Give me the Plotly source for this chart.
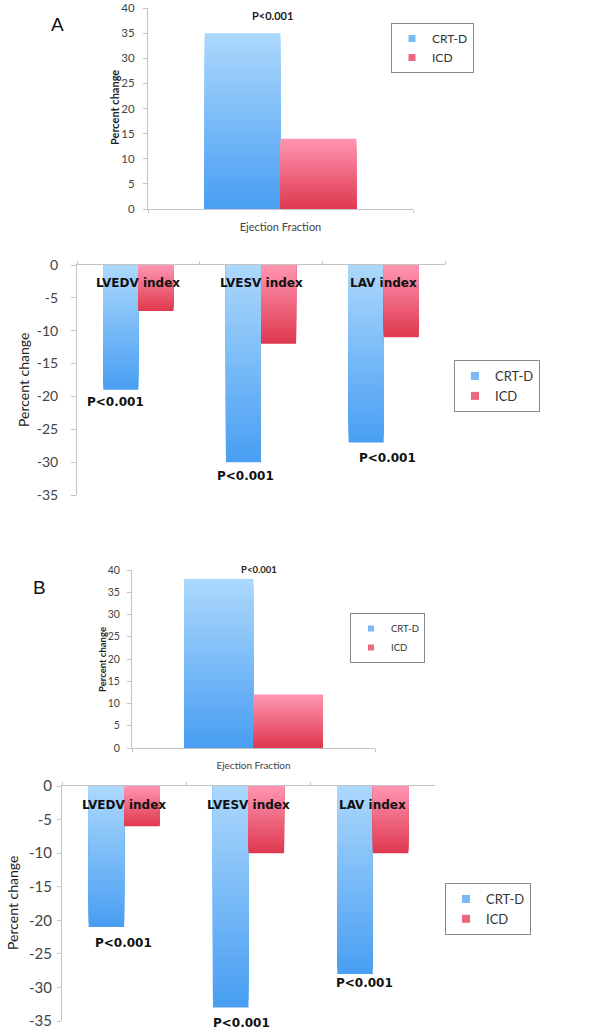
import plotly.graph_objects as go

# ---------------- data ----------------
ef_cats = ["Ejection Fraction"]
idx_cats = ["LVEDV index", "LVESV index", "LAV index"]
series_names = ["CRT-D", "ICD"]

a_ef_crt = [35]
a_ef_icd = [14]
a_idx_crt = [-19, -30, -27]
a_idx_icd = [-7, -12, -11]

b_ef_crt = [38]
b_ef_icd = [12]
b_idx_crt = [-21, -33, -28]
b_idx_icd = [-6, -10, -10]

ef_ticks = [0, 5, 10, 15, 20, 25, 30, 35, 40]
idx_ticks = [0, -5, -10, -15, -20, -25, -30, -35]
p_label = "P<0.001"

# ---------------- style ----------------
W, H = 600, 1033
CRT_LIGHT, CRT_DARK = (172, 216, 252), (72, 158, 242)
ICD_LIGHT, ICD_DARK = (255, 150, 178), (222, 56, 78)
AXIS_COL = "#c4c4c4"
TICK_COL = "#444444"
N_LAYERS = 30


def mix(c1, c2, t):
    return "rgb(%d,%d,%d)" % tuple(round(a + (b - a) * t) for a, b in zip(c1, c2))


def px_x(p):
    return p / W


def px_y(p):
    return 1 - p / H


fig = go.Figure()


def add_series(cats, vals, xa, ya, offset, width, light, dark, name):
    positive = vals[0] >= 0
    for k in range(N_LAYERS, 0, -1):
        f = (k - 0.5) / N_LAYERS
        s = f if positive else 1 - f  # s=1 -> light (top of the bar)
        col = mix(dark, light, s)
        fig.add_trace(go.Bar(
            x=cats, y=[v * k / N_LAYERS for v in vals],
            xaxis=xa, yaxis=ya, offset=offset, width=width,
            marker=dict(color=col, line=dict(width=0)),
            name=name, showlegend=False, hoverinfo="skip"))


def add_legend_entry(name, xa, ya, light, dark, legend, size):
    fig.add_trace(go.Scatter(
        x=[None], y=[None], xaxis=xa, yaxis=ya, mode="markers", name=name,
        legend=legend, showlegend=True, hoverinfo="skip",
        marker=dict(symbol="square", size=size, color=mix(dark, light, 0.5))))


BW = 0.286
panels = [
    ("x", "y", ef_cats, a_ef_crt, a_ef_icd, "legend", 7),
    ("x2", "y2", idx_cats, a_idx_crt, a_idx_icd, "legend2", 8),
    ("x3", "y3", ef_cats, b_ef_crt, b_ef_icd, "legend3", 6),
    ("x4", "y4", idx_cats, b_idx_crt, b_idx_icd, "legend4", 8),
]
for xa, ya, cats, crt, icd, lg, msz in panels:
    add_series(cats, crt, xa, ya, -BW, BW, CRT_LIGHT, CRT_DARK, series_names[0])
    add_series(cats, icd, xa, ya, 0, BW, ICD_LIGHT, ICD_DARK, series_names[1])
    add_legend_entry(series_names[0], xa, ya, CRT_LIGHT, CRT_DARK, lg, msz)
    add_legend_entry(series_names[1], xa, ya, ICD_LIGHT, ICD_DARK, lg, msz)

tickfont_base = dict(family="Lato, Open Sans, sans-serif", color=TICK_COL)


def xaxis_cfg(x0, x1, anchor, top, ncat, tfsize=11):
    cfg = dict(domain=[px_x(x0), px_x(x1)], anchor=anchor, type="category",
               range=[-0.5, ncat - 0.5], showline=True, linecolor=AXIS_COL,
               linewidth=1, showgrid=False, zeroline=False, fixedrange=True,
               automargin=False,
               ticks="outside", tickson="boundaries", ticklen=3, tickcolor=AXIS_COL)
    if top:
        cfg.update(side="top", showticklabels=False)
    else:
        cfg.update(side="bottom", showticklabels=True,
                   tickfont=dict(size=tfsize, **tickfont_base), ticklabelstandoff=8)
    return cfg


def yaxis_cfg(y_top, y_bot, anchor, rng, tickvals, tfsize, ticklen, standoff):
    return dict(domain=[px_y(y_bot), px_y(y_top)], anchor=anchor, range=rng,
                tickvals=tickvals, ticktext=[str(v) for v in tickvals],
                showline=True, linecolor=AXIS_COL, linewidth=1, automargin=False,
                showgrid=False, zeroline=False, ticks="outside", ticklen=ticklen,
                tickcolor=AXIS_COL, tickfont=dict(size=tfsize, **tickfont_base),
                ticklabelstandoff=standoff, fixedrange=True)


legend_base = dict(xanchor="left", yanchor="top", bordercolor="#8a8a8a", borderwidth=1,
                   bgcolor="white", tracegroupgap=0, itemwidth=30,
                   font=dict(family="Lato, Open Sans, sans-serif", color="#333333"))

fig.update_layout(
    template="none",
    width=W, height=H, margin=dict(l=0, r=0, t=0, b=0, autoexpand=False),
    paper_bgcolor="white", plot_bgcolor="white", barmode="overlay",
    xaxis=xaxis_cfg(148, 413, "y", False, 1, 11),
    yaxis=yaxis_cfg(8, 209, "x", [0, 40], ef_ticks, 11.5, 4, 6),
    xaxis2=xaxis_cfg(77, 445, "y2", True, 3),
    yaxis2=yaxis_cfg(265, 495, "x2", [-35, 0], idx_ticks, 14, 5, 10),
    xaxis3=xaxis_cfg(132, 375, "y3", False, 1, 10),
    yaxis3=yaxis_cfg(570, 748, "x3", [0, 40], ef_ticks, 10.5, 4, 5),
    xaxis4=xaxis_cfg(62, 435, "y4", True, 3),
    yaxis4=yaxis_cfg(786, 1021, "x4", [-35, 0], idx_ticks, 15, 4, 2),
    legend=dict(legend_base, x=px_x(391), y=px_y(23),
                font=dict(legend_base["font"], size=12)),
    legend2=dict(legend_base, x=px_x(454), y=px_y(360),
                 font=dict(legend_base["font"], size=13)),
    legend3=dict(legend_base, x=px_x(350), y=px_y(613),
                 font=dict(legend_base["font"], size=9.5)),
    legend4=dict(legend_base, x=px_x(445), y=px_y(883),
                 font=dict(legend_base["font"], size=13)),
)

ann = []
bold_dv = dict(family="DejaVu Sans, sans-serif", color="#111111", weight="bold")
C = dict(xanchor="center", yanchor="middle", showarrow=False)

# panel letters
ann.append(dict(text="A", x=px_x(57), y=px_y(25), xref="paper", yref="paper",
                font=dict(family="Arial, Liberation Sans", size=19, color="#111"), **C))
ann.append(dict(text="B", x=px_x(39), y=px_y(587), xref="paper", yref="paper",
                font=dict(family="Arial, Liberation Sans", size=19, color="#111"), **C))

# y-axis titles
for (cx, cy, size, weight, fam) in [
    (114, 108, 11, "bold", "Lato, Open Sans"),
    (23, 380, 14, "normal", "Liberation Sans Narrow, Lato"),
    (102, 660, 9.5, "bold", "Lato, Open Sans"),
    (12, 903, 14, "normal", "Liberation Sans Narrow, Lato"),
]:
    ann.append(dict(text="Percent change", x=px_x(cx), y=px_y(cy), xref="paper", yref="paper",
                    textangle=-90,
                    font=dict(family=fam, size=size, color="#222222", weight=weight), **C))

# P labels on the ejection fraction panels
ann.append(dict(text=p_label, x=ef_cats[0], y=a_ef_crt[0], xref="x", yref="y",
                xshift=-8, yshift=18,
                font=dict(family="Lato, Open Sans", size=11, color="#222", weight="bold"), **C))
ann.append(dict(text=p_label, x=ef_cats[0], y=b_ef_crt[0], xref="x3", yref="y3",
                xshift=5, yshift=9,
                font=dict(family="Lato, Open Sans", size=9.5, color="#222", weight="bold"), **C))

# category labels and P labels on the index panels
a_shifts = [(-23, -12), (-16, -14), (4, -16)]
b_shifts = [(-1, -16), (-7, -15), (-8, -9)]
for xr, yr, crt, shifts, lshift in [("x2", "y2", a_idx_crt, a_shifts, -18),
                                   ("x4", "y4", b_idx_crt, b_shifts, -19)]:
    for cat, v, (dx, dy) in zip(idx_cats, crt, shifts):
        ann.append(dict(text=cat, x=cat, y=0, xref=xr, yref=yr, yshift=lshift,
                        font=dict(size=12, **bold_dv), **C))
        ann.append(dict(text=p_label, x=cat, y=v, xref=xr, yref=yr, xshift=dx, yshift=dy,
                        font=dict(size=12, **bold_dv), **C))

fig.update_layout(annotations=ann)
fig.write_html("out.html", config={"displayModeBar": False},
               post_script="document.body.style.margin='0';")
